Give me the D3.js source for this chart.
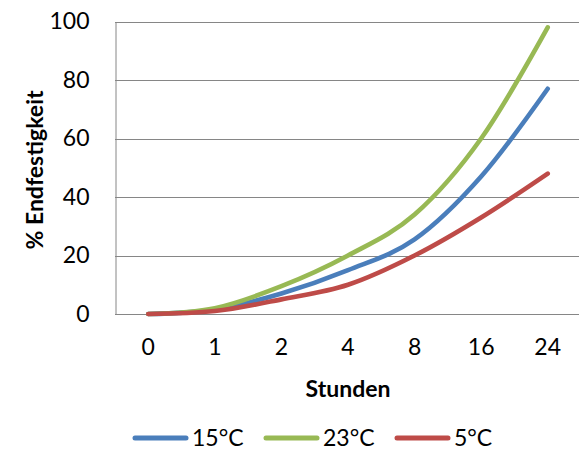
<!DOCTYPE html>
<html>
<head>
<meta charset="utf-8">
<script src="https://cdn.jsdelivr.net/npm/d3@7"></script>
<style>
  body { margin: 0; background: #fff; }
  svg { display: block; font-family: Lato, "Open Sans", sans-serif; }
</style>
</head>
<body>
<svg id="chart" width="579" height="451"></svg>
<script>
// Hours after placing, % of final strength per curing temperature
const hours = ["0", "1", "2", "4", "8", "16", "24"];
const yTicks = [0, 20, 40, 60, 80, 100];
const series = ["15°C", "23°C", "5°C"];
const colors = ["#4a7ebb", "#98b954", "#be4b48"];
const t15 = [0, 1.5, 7, 15, 25.5, 47, 77];
const t23 = [0, 2, 9.5, 20, 34, 60, 98];
const t5  = [0, 1, 5, 10, 20, 33, 48];
const values = [t15, t23, t5];

const svg = d3.select("#chart");
const plotL = 115, plotR = 581, plotT = 21.5, plotB = 314;
const fs = 23;

const x = d3.scaleBand().domain(hours).range([plotL, plotR]);
const y = d3.scaleLinear().domain([0, 100]).range([plotB, plotT]);

// Gridlines
svg.append("g")
    .selectAll("line")
    .data(yTicks)
    .join("line")
    .attr("x1", plotL).attr("x2", plotR)
    .attr("y1", d => Math.round(y(d)) + 0.5)
    .attr("y2", d => Math.round(y(d)) + 0.5)
    .attr("stroke", "#868686")
    .attr("stroke-width", 1);

// Y axis
const yAxis = svg.append("g")
    .attr("transform", `translate(${plotL + 0.5},0)`)
    .call(d3.axisLeft(y).tickValues(yTicks).tickSize(0).tickPadding(26));
yAxis.select(".domain").attr("stroke", "#868686");
yAxis.selectAll("text")
    .attr("font-size", fs).attr("fill", "#000")
    .attr("font-family", "Lato, sans-serif");

// X axis labels
const xAxis = svg.append("g")
    .attr("transform", `translate(0,${plotB})`)
    .call(d3.axisBottom(x).tickSize(0).tickPadding(25));
xAxis.select(".domain").remove();
xAxis.selectAll("text")
    .attr("font-size", fs).attr("fill", "#000")
    .attr("font-family", "Lato, sans-serif");

// Axis titles
svg.append("text")
    .attr("transform", `translate(43,170) rotate(-90)`)
    .attr("text-anchor", "middle")
    .attr("font-size", fs).attr("font-weight", "bold")
    .text("% Endfestigkeit");

svg.append("text")
    .attr("x", 348).attr("y", 397)
    .attr("text-anchor", "middle")
    .attr("font-size", fs).attr("font-weight", "bold")
    .text("Stunden");

// Lines
const line = d3.line()
    .x((d, i) => x(hours[i]) + x.bandwidth() / 2)
    .y(d => y(d))
    .curve(d3.curveCardinal.tension(0));

svg.append("g")
    .selectAll("path")
    .data(values)
    .join("path")
    .attr("d", line)
    .attr("fill", "none")
    .attr("stroke", (d, i) => colors[i])
    .attr("stroke-width", 4.6)
    .attr("stroke-linecap", "round")
    .attr("stroke-linejoin", "round");

// Legend
const legendX = [133, 264, 395];
const lg = svg.append("g")
    .selectAll("g")
    .data(series)
    .join("g")
    .attr("transform", (d, i) => `translate(${legendX[i]},438)`);
lg.append("line")
    .attr("x1", 2).attr("x2", 53)
    .attr("stroke", (d, i) => colors[i])
    .attr("stroke-width", 5)
    .attr("stroke-linecap", "round");
lg.append("text")
    .attr("x", 59).attr("dy", "0.35em")
    .attr("font-size", fs)
    .text(d => d);
</script>
</body>
</html>
